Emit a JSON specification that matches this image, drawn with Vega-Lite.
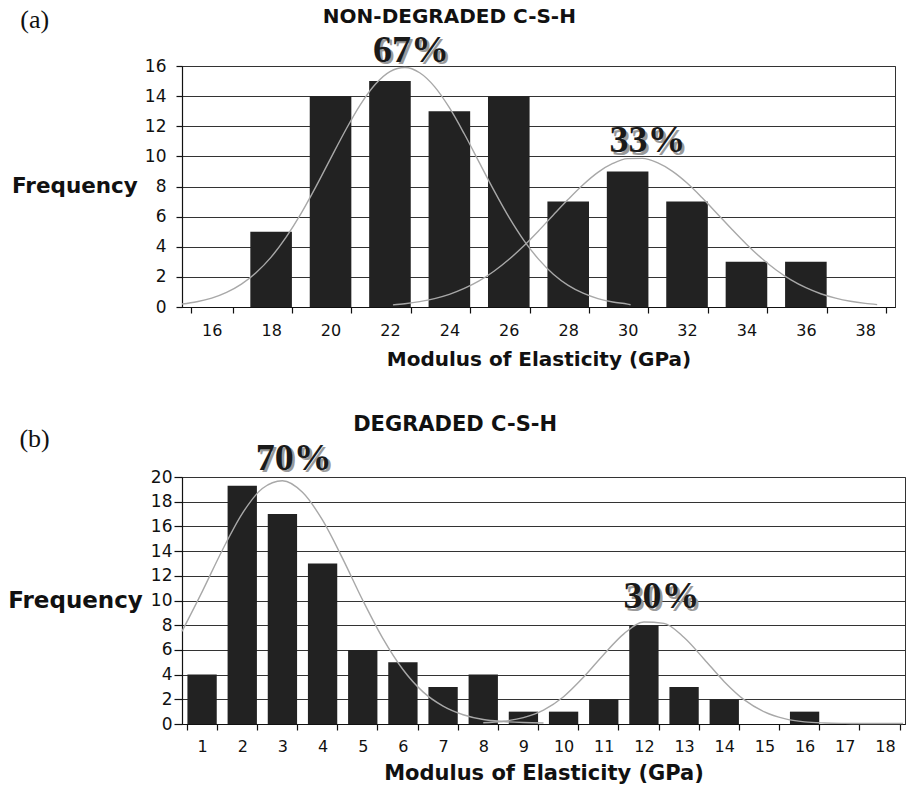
{
  "$schema": "https://vega.github.io/schema/vega-lite/v6.json",
  "background": "white",
  "padding": {"left": 7, "top": 6, "right": 0, "bottom": 0},
  "config": {
    "view": {"stroke": "#333", "strokeWidth": 1},
    "font": "DejaVu Sans",
    "axis": {"domainColor": "#111", "tickColor": "#111", "labelColor": "#111", "titleColor": "#111", "gridColor": "#333", "gridWidth": 1, "domainWidth": 1.2, "tickWidth": 1.2}
  },
  "datasets": {
    "barsA": [
      {"e": 16, "v": 0}, {"e": 18, "v": 5}, {"e": 20, "v": 14}, {"e": 22, "v": 15},
      {"e": 24, "v": 13}, {"e": 26, "v": 14}, {"e": 28, "v": 7}, {"e": 30, "v": 9},
      {"e": 32, "v": 7}, {"e": 34, "v": 3}, {"e": 36, "v": 3}, {"e": 38, "v": 0}
    ],
    "curvesA": [
      {"c": "a1", "x": 15, "v": 0.2}, {"c": "a1", "x": 15.5, "v": 0.35}, {"c": "a1", "x": 16, "v": 0.59},
      {"c": "a1", "x": 16.5, "v": 0.97}, {"c": "a1", "x": 17, "v": 1.52}, {"c": "a1", "x": 17.5, "v": 2.29},
      {"c": "a1", "x": 18, "v": 3.31}, {"c": "a1", "x": 18.5, "v": 4.62}, {"c": "a1", "x": 19, "v": 6.18},
      {"c": "a1", "x": 19.5, "v": 7.96}, {"c": "a1", "x": 20, "v": 9.85}, {"c": "a1", "x": 20.5, "v": 11.72},
      {"c": "a1", "x": 21, "v": 13.42}, {"c": "a1", "x": 21.5, "v": 14.77}, {"c": "a1", "x": 22, "v": 15.63},
      {"c": "a1", "x": 22.5, "v": 15.9}, {"c": "a1", "x": 23, "v": 15.55}, {"c": "a1", "x": 23.5, "v": 14.63},
      {"c": "a1", "x": 24, "v": 13.23}, {"c": "a1", "x": 24.5, "v": 11.5}, {"c": "a1", "x": 25, "v": 9.62},
      {"c": "a1", "x": 25.5, "v": 7.74}, {"c": "a1", "x": 26, "v": 5.98}, {"c": "a1", "x": 26.5, "v": 4.44},
      {"c": "a1", "x": 27, "v": 3.18}, {"c": "a1", "x": 27.5, "v": 2.18}, {"c": "a1", "x": 28, "v": 1.44},
      {"c": "a1", "x": 28.5, "v": 0.92}, {"c": "a1", "x": 29, "v": 0.56}, {"c": "a1", "x": 29.5, "v": 0.33},
      {"c": "a1", "x": 30, "v": 0.19}, {"c": "a1", "x": 30.1, "v": 0.15},
      {"c": "a2", "x": 22.1, "v": 0.14}, {"c": "a2", "x": 22.5, "v": 0.22}, {"c": "a2", "x": 23, "v": 0.36},
      {"c": "a2", "x": 23.5, "v": 0.56}, {"c": "a2", "x": 24, "v": 0.84}, {"c": "a2", "x": 24.5, "v": 1.23},
      {"c": "a2", "x": 25, "v": 1.73}, {"c": "a2", "x": 25.5, "v": 2.37}, {"c": "a2", "x": 26, "v": 3.15},
      {"c": "a2", "x": 26.5, "v": 4.05}, {"c": "a2", "x": 27, "v": 5.05}, {"c": "a2", "x": 27.5, "v": 6.11},
      {"c": "a2", "x": 28, "v": 7.15}, {"c": "a2", "x": 28.5, "v": 8.12}, {"c": "a2", "x": 29, "v": 8.94},
      {"c": "a2", "x": 29.5, "v": 9.53}, {"c": "a2", "x": 30, "v": 9.85}, {"c": "a2", "x": 30.5, "v": 9.87},
      {"c": "a2", "x": 31, "v": 9.58}, {"c": "a2", "x": 31.5, "v": 9.02}, {"c": "a2", "x": 32, "v": 8.23},
      {"c": "a2", "x": 32.5, "v": 7.27}, {"c": "a2", "x": 33, "v": 6.23}, {"c": "a2", "x": 33.5, "v": 5.18},
      {"c": "a2", "x": 34, "v": 4.17}, {"c": "a2", "x": 34.5, "v": 3.25}, {"c": "a2", "x": 35, "v": 2.46},
      {"c": "a2", "x": 35.5, "v": 1.8}, {"c": "a2", "x": 36, "v": 1.28}, {"c": "a2", "x": 36.5, "v": 0.88},
      {"c": "a2", "x": 37, "v": 0.59}, {"c": "a2", "x": 37.5, "v": 0.38}, {"c": "a2", "x": 38, "v": 0.24},
      {"c": "a2", "x": 38.4, "v": 0.16}
    ],
    "notesA": [
      {"kind": "title", "t": "NON-DEGRADED C-S-H", "x": 24.0, "v": 18.84},
      {"kind": "tag", "t": "(a)", "x": 10.04, "v": 18.53},
      {"kind": "pct", "t": "67%", "x": 22.71, "v": 16.29},
      {"kind": "pct", "t": "33%", "x": 30.67, "v": 10.29}
    ],
    "barsB": [
      {"e": 1, "v": 4}, {"e": 2, "v": 19.3}, {"e": 3, "v": 17}, {"e": 4, "v": 13}, {"e": 5, "v": 6},
      {"e": 6, "v": 5}, {"e": 7, "v": 3}, {"e": 8, "v": 4}, {"e": 9, "v": 1}, {"e": 10, "v": 1},
      {"e": 11, "v": 2}, {"e": 12, "v": 8}, {"e": 13, "v": 3}, {"e": 14, "v": 2}, {"e": 15, "v": 0},
      {"e": 16, "v": 1}, {"e": 17, "v": 0}, {"e": 18, "v": 0}
    ],
    "curvesB": [
      {"c": "b1", "x": 0.5, "v": 7.5}, {"c": "b1", "x": 1, "v": 10.7}, {"c": "b1", "x": 1.5, "v": 14.05},
      {"c": "b1", "x": 2, "v": 17.04}, {"c": "b1", "x": 2.5, "v": 19.07}, {"c": "b1", "x": 3, "v": 19.7},
      {"c": "b1", "x": 3.5, "v": 18.76}, {"c": "b1", "x": 4, "v": 16.5}, {"c": "b1", "x": 4.5, "v": 13.39},
      {"c": "b1", "x": 5, "v": 10.02}, {"c": "b1", "x": 5.5, "v": 6.93}, {"c": "b1", "x": 6, "v": 4.41},
      {"c": "b1", "x": 6.5, "v": 2.6}, {"c": "b1", "x": 7, "v": 1.45}, {"c": "b1", "x": 7.5, "v": 0.75},
      {"c": "b1", "x": 8, "v": 0.36}, {"c": "b1", "x": 8.5, "v": 0.2}, {"c": "b1", "x": 9, "v": 0.12},
      {"c": "b1", "x": 9.5, "v": 0.08},
      {"c": "b2", "x": 8, "v": 0.1}, {"c": "b2", "x": 8.5, "v": 0.22}, {"c": "b2", "x": 9, "v": 0.52},
      {"c": "b2", "x": 9.5, "v": 1.13}, {"c": "b2", "x": 10, "v": 2.21}, {"c": "b2", "x": 10.5, "v": 3.8},
      {"c": "b2", "x": 11, "v": 5.63}, {"c": "b2", "x": 11.5, "v": 7.3}, {"c": "b2", "x": 12, "v": 8.26},
      {"c": "b2", "x": 12.5, "v": 8.15}, {"c": "b2", "x": 13, "v": 7.0}, {"c": "b2", "x": 13.5, "v": 5.25},
      {"c": "b2", "x": 14, "v": 3.43}, {"c": "b2", "x": 14.5, "v": 1.95}, {"c": "b2", "x": 15, "v": 0.98},
      {"c": "b2", "x": 15.5, "v": 0.43}, {"c": "b2", "x": 16, "v": 0.17}, {"c": "b2", "x": 16.5, "v": 0.08},
      {"c": "b2", "x": 17, "v": 0.05}, {"c": "b2", "x": 17.5, "v": 0.04}, {"c": "b2", "x": 18, "v": 0.04},
      {"c": "b2", "x": 18.45, "v": 0.04}
    ],
    "notesB": [
      {"kind": "title", "t": "DEGRADED C-S-H", "x": 7.3, "v": 23.75},
      {"kind": "tag", "t": "(b)", "x": -3.17, "v": 22.43},
      {"kind": "pct", "t": "70%", "x": 3.28, "v": 20.57},
      {"kind": "pct", "t": "30%", "x": 12.44, "v": 9.39}
    ]
  },
  "bounds": "flush",
  "spacing": 170,
  "vconcat": [
    {
      "width": 713,
      "height": 241,
      "resolve": {"scale": {"x": "independent"}},
      "encoding": {
        "y": {
          "field": "v", "type": "quantitative",
          "scale": {"domain": [0, 16], "nice": false},
          "axis": {
            "title": "Frequency", "values": [0, 2, 4, 6, 8, 10, 12, 14, 16],
            "titleAngle": 0, "titleAlign": "right", "titleBaseline": "middle",
            "titleFont": "DejaVu Sans", "titleFontSize": 21.5, "titleFontWeight": "bold", "titlePadding": 7,
            "labelFont": "DejaVu Sans", "labelFontSize": 17, "labelPadding": 10, "tickSize": 6,
            "labelOverlap": false, "grid": true
          }
        }
      },
      "layer": [
        {
          "data": {"name": "barsA"},
          "mark": {"type": "bar", "color": "#222"},
          "encoding": {
            "x": {
              "field": "e", "type": "ordinal",
              "scale": {"paddingInner": 0.3, "paddingOuter": 0.15},
              "axis": {
                "title": "Modulus of Elasticity (GPa)", "labelAngle": 0, "tickBand": "extent",
                "tickSize": 6, "labelPadding": 9, "labelFont": "DejaVu Sans", "labelFontSize": 16,
                "titleFont": "DejaVu Sans", "titleFontSize": 20, "titleFontWeight": "bold", "titlePadding": 11,
                "grid": false
              }
            }
          }
        },
        {
          "data": {"name": "curvesA"},
          "mark": {"type": "line", "color": "#a8a8a8", "strokeWidth": 1.4, "interpolate": "monotone"},
          "encoding": {
            "x": {"field": "x", "type": "quantitative", "scale": {"domain": [15, 39], "nice": false, "zero": false}, "axis": null},
            "detail": {"field": "c"}
          }
        },
        {
          "data": {"name": "notesA"},
          "transform": [{"filter": "datum.kind === 'title'"}],
          "mark": {"type": "text", "font": "DejaVu Sans", "fontWeight": "bold", "fontSize": 20, "align": "center", "baseline": "alphabetic", "color": "#111"},
          "encoding": {
            "x": {"field": "x", "type": "quantitative", "scale": {"domain": [15, 39], "nice": false, "zero": false}, "axis": null},
            "text": {"field": "t"}
          }
        },
        {
          "data": {"name": "notesA"},
          "transform": [{"filter": "datum.kind === 'tag'"}],
          "mark": {"type": "text", "font": "Liberation Serif", "fontSize": 26, "align": "center", "baseline": "alphabetic", "color": "#111"},
          "encoding": {
            "x": {"field": "x", "type": "quantitative", "scale": {"domain": [15, 39], "nice": false, "zero": false}, "axis": null},
            "text": {"field": "t"}
          }
        },
        {
          "data": {"name": "notesA"},
          "transform": [{"filter": "datum.kind === 'pct'"}],
          "mark": {"type": "text", "font": "Liberation Serif", "fontWeight": "bold", "fontSize": 38, "align": "center", "baseline": "alphabetic", "color": "#9a9a9a", "dx": 2.5, "dy": 2.5},
          "encoding": {
            "x": {"field": "x", "type": "quantitative", "scale": {"domain": [15, 39], "nice": false, "zero": false}, "axis": null},
            "text": {"field": "t"}
          }
        },
        {
          "data": {"name": "notesA"},
          "transform": [{"filter": "datum.kind === 'pct'"}],
          "mark": {"type": "text", "font": "Liberation Serif", "fontWeight": "bold", "fontSize": 38, "align": "center", "baseline": "alphabetic", "color": "#1a1a1a"},
          "encoding": {
            "x": {"field": "x", "type": "quantitative", "scale": {"domain": [15, 39], "nice": false, "zero": false}, "axis": null},
            "text": {"field": "t"}
          }
        }
      ]
    },
    {
      "width": 723,
      "height": 247,
      "resolve": {"scale": {"x": "independent"}},
      "encoding": {
        "y": {
          "field": "v", "type": "quantitative",
          "scale": {"domain": [0, 20], "nice": false},
          "axis": {
            "title": "Frequency", "values": [0, 2, 4, 6, 8, 10, 12, 14, 16, 18, 20],
            "titleAngle": 0, "titleAlign": "right", "titleBaseline": "middle",
            "titleFont": "DejaVu Sans", "titleFontSize": 23, "titleFontWeight": "bold", "titlePadding": 8,
            "labelFont": "DejaVu Sans", "labelFontSize": 17, "labelPadding": 2, "tickSize": 8,
            "labelOverlap": false, "grid": true
          }
        }
      },
      "layer": [
        {
          "data": {"name": "barsB"},
          "mark": {"type": "bar", "color": "#222"},
          "encoding": {
            "x": {
              "field": "e", "type": "ordinal",
              "scale": {"paddingInner": 0.27, "paddingOuter": 0.135},
              "axis": {
                "title": "Modulus of Elasticity (GPa)", "labelAngle": 0, "tickBand": "extent",
                "tickSize": 6, "labelPadding": 8, "labelFont": "DejaVu Sans", "labelFontSize": 16,
                "titleFont": "DejaVu Sans", "titleFontSize": 21, "titleFontWeight": "bold", "titlePadding": 8,
                "grid": false
              }
            }
          }
        },
        {
          "data": {"name": "curvesB"},
          "mark": {"type": "line", "color": "#a8a8a8", "strokeWidth": 1.4, "interpolate": "monotone"},
          "encoding": {
            "x": {"field": "x", "type": "quantitative", "scale": {"domain": [0.5, 18.5], "nice": false, "zero": false}, "axis": null},
            "detail": {"field": "c"}
          }
        },
        {
          "data": {"name": "notesB"},
          "transform": [{"filter": "datum.kind === 'title'"}],
          "mark": {"type": "text", "font": "DejaVu Sans", "fontWeight": "bold", "fontSize": 21, "align": "center", "baseline": "alphabetic", "color": "#111"},
          "encoding": {
            "x": {"field": "x", "type": "quantitative", "scale": {"domain": [0.5, 18.5], "nice": false, "zero": false}, "axis": null},
            "text": {"field": "t"}
          }
        },
        {
          "data": {"name": "notesB"},
          "transform": [{"filter": "datum.kind === 'tag'"}],
          "mark": {"type": "text", "font": "Liberation Serif", "fontSize": 26, "align": "center", "baseline": "alphabetic", "color": "#111"},
          "encoding": {
            "x": {"field": "x", "type": "quantitative", "scale": {"domain": [0.5, 18.5], "nice": false, "zero": false}, "axis": null},
            "text": {"field": "t"}
          }
        },
        {
          "data": {"name": "notesB"},
          "transform": [{"filter": "datum.kind === 'pct'"}],
          "mark": {"type": "text", "font": "Liberation Serif", "fontWeight": "bold", "fontSize": 38, "align": "center", "baseline": "alphabetic", "color": "#9a9a9a", "dx": 2.5, "dy": 2.5},
          "encoding": {
            "x": {"field": "x", "type": "quantitative", "scale": {"domain": [0.5, 18.5], "nice": false, "zero": false}, "axis": null},
            "text": {"field": "t"}
          }
        },
        {
          "data": {"name": "notesB"},
          "transform": [{"filter": "datum.kind === 'pct'"}],
          "mark": {"type": "text", "font": "Liberation Serif", "fontWeight": "bold", "fontSize": 38, "align": "center", "baseline": "alphabetic", "color": "#1a1a1a"},
          "encoding": {
            "x": {"field": "x", "type": "quantitative", "scale": {"domain": [0.5, 18.5], "nice": false, "zero": false}, "axis": null},
            "text": {"field": "t"}
          }
        }
      ]
    }
  ]
}
